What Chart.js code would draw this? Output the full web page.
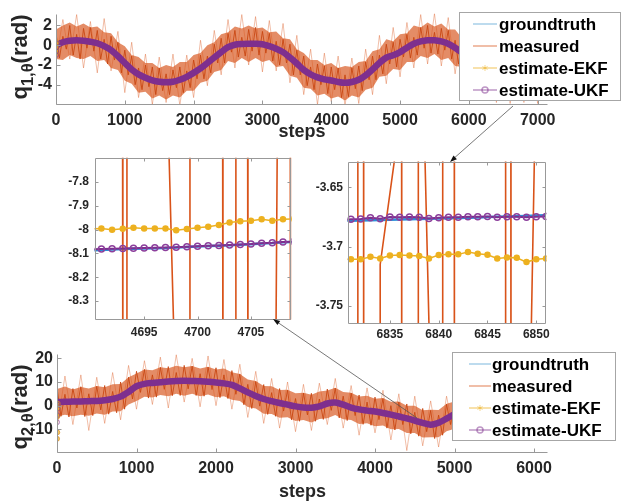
<!DOCTYPE html>
<html>
<head>
<meta charset="utf-8">
<script src="https://cdn.jsdelivr.net/npm/chart.js@4.4.1/dist/chart.umd.min.js"></script>
<style>
  body { margin: 0; background: #fff; width: 621px; height: 502px; position: relative; overflow: hidden;
         font-family: "Liberation Sans", Arial, sans-serif; }
  .pane { position: absolute; }
  .ylab { position: absolute; font-weight: bold; font-size: 22px; color: #262626; white-space: nowrap;
          transform: translate(-50%, -50%) rotate(-90deg); }
  .ylab .sub { font-size: 0.75em; position: relative; top: 0.35em; }
  svg { position: absolute; left: 0; top: 0; pointer-events: none; }
</style>
</head>
<body>
<div class="pane" style="left:0;top:0;width:621px;height:140px"><canvas id="q1Main"></canvas></div>
<div class="pane" style="left:40px;top:145px;width:260px;height:200px"><canvas id="q2Zoom"></canvas></div>
<div class="pane" style="left:295px;top:145px;width:326px;height:200px"><canvas id="q1Zoom"></canvas></div>
<div class="pane" style="left:0;top:340px;width:621px;height:162px"><canvas id="q2Main"></canvas></div>
<div class="ylab" style="left:20px;top:57px">q<span class="sub">1,θ</span>(rad)</div>
<div class="ylab" style="left:20px;top:407px">q<span class="sub">2,θ</span>(rad)</div>
<svg width="621" height="502">
  <line x1="513" y1="106" x2="452" y2="160" stroke="#555" stroke-width="0.8"/>
  <polygon points="450,162 456.9,159.2 453.5,155.5" fill="#111"/>
  <line x1="417" y1="418" x2="275" y2="320.5" stroke="#555" stroke-width="0.8"/>
  <polygon points="273,319 280.2,320.9 277.4,325.1" fill="#111"/>
</svg>
<script>
// ---------- donnees ----------
function range(a, b, step) { const r = []; for (let v = a; v <= b; v += step) r.push(v); return r; }

// q1 : courbe principale (pas de 100)
const q1Steps = range(0, 7100, 100);
const q1Truth = [
  0.0, 0.3, 0.45, 0.5, 0.45, 0.35, 0.2, -0.1, -0.5, -1.1,
  -1.8, -2.45, -2.95, -3.3, -3.55, -3.7, -3.75, -3.7, -3.5, -3.2,
  -2.8, -2.35, -1.8, -1.25, -0.7, -0.2, 0.05, 0.12, 0.15, 0.15,
  0.1, -0.1, -0.35, -0.7, -1.25, -1.85, -2.5, -2.95, -3.25, -3.45,
  -3.57, -3.72, -3.8, -3.72, -3.5, -3.05, -2.45, -1.8, -1.25, -1.02,
  -0.7, -0.25, 0.15, 0.38, 0.5, 0.5, 0.38, 0.15, -0.25, -0.75,
  -1.3, -1.85, -2.35, -2.8, -3.15, -3.4, -3.55, -3.63, -3.67, -3.69,
  -3.7, -3.7
];
// a cette echelle les deux estimations se confondent avec la verite terrain
const q1Ekf = q1Truth;
const q1Ukf = q1Truth;

// q1 mesure : enveloppe de la zone dense (pas de 100)
const q1BandHi = [
  1.6, 2.0, 2.3, 1.9, 2.2, 1.8, 1.9, 1.3, 1.2, 0.3,
  -0.1, -1.0, -1.2, -1.8, -1.8, -2.3, -2.0, -2.2, -1.7, -1.7,
  -1.0, -0.8, 0.0, 0.3, 1.1, 1.3, 1.9, 1.7, 2.0, 1.7,
  1.8, 1.3, 1.4, 0.7, 0.6, -0.4, -0.8, -1.5, -1.5, -2.0,
  -1.8, -2.3, -2.1, -2.2, -1.7, -1.6, -0.6, -0.4, 0.6, 0.4,
  1.1, 1.2, 2.0, 1.8, 2.3, 1.9, 2.2, 1.6, 1.6, 0.7,
  0.5, -0.4, -0.5, -1.4, -1.3, -2.0, -1.7, -2.2, -1.8, -2.3,
  -1.9, -2.2
];
const q1BandLo = [
  -1.4, -1.5, -1.0, -1.3, -1.4, -1.1, -1.6, -1.5, -2.3, -2.5,
  -3.6, -3.9, -4.8, -4.7, -5.4, -5.1, -5.5, -5.1, -5.3, -4.6,
  -4.6, -3.8, -3.6, -2.7, -2.5, -1.6, -1.8, -1.3, -1.7, -1.3,
  -1.7, -1.5, -2.2, -2.1, -3.1, -3.3, -4.3, -4.4, -5.1, -4.9,
  -5.4, -5.2, -5.6, -5.1, -5.3, -4.5, -4.3, -3.2, -3.1, -2.4,
  -2.5, -1.7, -1.7, -1.1, -1.3, -0.9, -1.5, -1.3, -2.1, -2.2,
  -3.1, -3.3, -4.2, -4.2, -5.0, -4.8, -5.4, -5.1, -5.5, -5.1,
  -5.5, -5.1
];
// q1 mesure : traces sombres (pas de 50) et pics clairs (pas de 100)
const q1MeasSteps = range(0, 7100, 50);
const q1Meas = [
  1.2, -1.3, 0.9, -0.4, 2.0, -1.0, 1.1, -1.4, 1.7, -0.3,
  1.8, -0.6, 1.5, -1.4, 0.6, -1.9, 0.9, -1.5, 0.3, -2.8,
  -0.5, -3.0, -1.1, -4.0, -2.3, -4.5, -2.0, -4.2, -2.2, -5.0,
  -2.3, -4.6, -2.9, -5.0, -2.5, -4.3, -2.2, -4.8, -2.6, -4.3,
  -1.5, -3.4, -1.0, -3.4, -1.1, -2.8, 0.1, -1.8, 0.7, -1.8,
  1.2, -0.7, 1.5, -1.2, 0.8, -1.1, 1.6, -0.6, 1.8, -1.0,
  1.4, -0.8, 1.2, -1.6, 0.4, -2.0, 0.6, -1.8, 0.1, -3.0,
  -0.5, -3.0, -1.1, -4.1, -2.2, -4.5, -1.9, -4.0, -2.1, -4.9,
  -2.2, -4.5, -2.3, -5.3, -3.0, -5.2, -2.3, -4.4, -2.1, -4.6,
  -1.7, -3.5, -1.1, -3.5, -1.0, -2.9, 0.1, -1.9, 0.3, -2.2,
  0.6, -1.2, 1.1, -1.3, 0.8, -1.0, 1.8, -0.3, 2.0, -0.8,
  1.3, -0.9, 1.7, -0.5, 1.5, -1.4, 0.5, -1.9, 0.6, -2.4,
  0.0, -2.3, -0.6, -3.4, -1.8, -3.9, -1.5, -3.7, -1.9, -4.6,
  -2.1, -4.3, -2.3, -5.0, -3.0, -5.1, -2.4, -4.5, -2.5, -5.1,
  -2.4, -4.6, -2.5
];
const q1SpikeSteps = range(0, 7100, 100);
const q1Spikes = [
  -1.6, 2.6, -1.4, 3.1, -2.3, 2.4, -2.8, 2.7, -2.6, 1.4,
  -4.8, 0.3, -5.3, -0.9, -6.0, -1.2, -5.8, -0.9, -6.1, -1.0,
  -5.3, 0.5, -4.1, 1.5, -3.0, 2.6, -2.3, 3.1, -2.0, 2.9,
  -2.7, 2.5, -2.6, 2.2, -3.8, 1.0, -5.0, -0.4, -6.0, -0.8,
  -5.7, -1.1, -6.1, -1.3, -5.9, -0.4, -5.0, 1.0, -3.9, 1.8,
  -3.2, 2.3, -2.3, 3.1, -1.9, 3.2, -2.1, 2.8, -2.9, 1.9,
  -3.9, 0.7, -4.9, 0.0, -5.8, -0.8, -5.9, -1.2, -5.8, -1.3,
  -5.9, -1.4
];
const q1InitSteps = [0, 3, 6, 9];
const q1InitEkf = [-0.8, -0.4, 0.0, 0.3];
const q1InitUkf = [-1.0, -0.6, -0.2, 0.2];

// q2 : courbe principale (pas de 100)
const q2Steps = range(0, 6100, 100);
const q2Truth = [
  1.5, 1.6, 1.7, 1.8, 1.9, 2.0, 2.3, 2.8, 3.8, 5.8,
  8.2, 9.2, 9.6, 9.9, 10.2, 10.4, 10.5, 10.4, 10.3, 10.1,
  9.8, 9.4, 8.8, 7.3, 5.6, 4.1, 2.8, 1.9, 1.1, 0.4,
  -0.3, -0.8, -0.9, -0.3, 0.9, 1.3, 0.4, -0.8, -1.6, -2.1,
  -2.5, -3.1, -3.8, -4.6, -5.4, -6.3, -7.3, -8.05, -7.2, -5.5,
  -3.6, -2.0, -0.8, 0.2, 0.8, 1.2, 1.3, 1.2, 1.0, 0.8,
  0.6, 0.5
];
const q2Ekf = q2Truth;
const q2Ukf = q2Truth;

const q2BandHi = [
  7.0, 8.1, 6.8, 7.9, 7.2, 8.3, 7.8, 9.0, 9.2, 12.0,
  13.6, 15.3, 15.0, 16.2, 15.8, 16.9, 16.2, 16.8, 15.7, 16.4,
  15.3, 15.7, 14.1, 13.4, 11.0, 10.4, 8.3, 8.2, 6.6, 6.7,
  5.2, 5.5, 4.6, 6.0, 6.4, 7.6, 5.8, 5.5, 3.9, 4.2,
  2.9, 3.2, 1.6, 1.7, 0.0, 0.0, -1.9, -1.7, -1.8, 0.8,
  1.8, 4.3, 4.6, 6.5, 6.2, 7.5, 6.7, 7.5, 6.4, 7.1,
  6.0, 6.8
];
const q2BandLo = [
  -4.6, -3.9, -4.5, -3.8, -4.3, -3.3, -3.9, -2.5, -2.4, 0.5,
  2.0, 3.8, 3.4, 4.5, 4.0, 5.0, 4.2, 5.0, 4.0, 4.7,
  3.5, 4.0, 2.5, 2.0, -0.6, -1.2, -3.4, -3.5, -5.1, -4.9,
  -6.5, -6.1, -7.1, -5.6, -5.3, -4.0, -5.8, -6.1, -7.8, -7.4,
  -8.7, -8.4, -10.0, -9.9, -11.6, -11.6, -13.5, -13.4, -13.4, -10.8,
  -9.8, -7.3, -7.0, -5.1, -5.4, -4.1, -4.9, -4.1, -5.2, -4.5,
  -5.6, -4.8
];
const q2MeasSteps = range(0, 6150, 50);
const q2Meas = [
  7.5, -4.5, 4.8, -4.8, 7.2, -1.0, 8.0, -4.6, 5.0, -4.2,
  8.2, -1.8, 8.5, -3.6, 6.0, -3.0, 10.0, -1.5, 12.0, 2.8,
  14.5, 5.6, 15.3, 3.2, 13.0, 3.6, 16.2, 6.9, 16.5, 4.2,
  14.0, 4.3, 17.0, 7.1, 16.7, 4.3, 13.5, 4.0, 16.3, 6.8,
  16.0, 3.4, 13.0, 3.0, 14.8, 4.8, 13.4, 0.4, 9.0, -1.2,
  10.2, -0.2, 8.9, -3.7, 5.5, -4.5, 7.2, -2.3, 6.5, -6.0,
  3.0, -6.6, 5.3, -3.9, 5.2, -6.6, 2.8, -5.8, 7.0, -2.0,
  7.4, -5.2, 4.0, -6.3, 5.3, -4.2, 4.5, -7.9, 1.5, -8.3,
  3.6, -5.9, 3.0, -9.5, 0.0, -10.3, 1.5, -8.0, 0.7, -11.9,
  -2.8, -12.9, -1.2, -11.0, -2.0, -13.9, -4.0, -12.5, 0.6, -8.0,
  2.5, -8.9, 1.5, -7.6, 5.3, -3.4, 6.3, -5.5, 3.9, -5.0,
  7.3, -2.0, 7.4, -5.0, 4.3, -5.0, 7.1, -2.2, 6.9, -5.4,
  6.7, -2.5, 6.6, -5.6
];
const q2SpikeSteps = range(0, 6100, 100);
const q2Spikes = [
  -9.5, 12.5, -8.0, 13.0, -10.5, 12.0, -7.5, 14.0, -6.0, 17.0,
  -1.5, 19.0, 0.5, 20.5, -1.0, 21.5, 1.5, 20.0, -0.5, 21.0,
  0.0, 19.5, -1.5, 17.5, -5.0, 14.5, -7.5, 11.5, -9.5, 10.0,
  -11.0, 9.0, -10.5, 9.5, -8.0, 11.5, -9.5, 8.5, -12.5, 7.5,
  -11.5, 6.5, -14.5, 5.0, -19.0, 4.0, -17.0, 2.0, -17.5, 4.0,
  -13.0, 7.0, -11.0, 9.5, -9.0, 11.0, -9.5, 11.5, -10.0, 11.0,
  -10.0, 11.0
];
const q2InitSteps = [0, 3, 6, 9, 12];
const q2InitEkf = [-14.0, -11.3, -4.5, -1.0, 0.8];
const q2InitUkf = [-7.0, -4.0, -1.3, 0.4, 1.2];

// zoom q2 (pas 4690..4709)
const z2Steps = range(4690, 4709, 1);
const z2Truth = [-8.087, -8.085, -8.083, -8.081, -8.080, -8.079, -8.078, -8.077, -8.075, -8.073,
                 -8.071, -8.069, -8.067, -8.065, -8.063, -8.061, -8.058, -8.056, -8.053, -8.051];
const z2Ekf = [-7.997, -7.995, -8.0, -7.996, -7.992, -7.995, -7.995, -7.995, -8.002, -7.997,
               -7.992, -7.988, -7.98, -7.97, -7.965, -7.963, -7.956, -7.963, -7.956, -7.955];
const z2Ukf = [-8.082, -8.081, -8.080, -8.079, -8.078, -8.077, -8.076, -8.075, -8.074, -8.072,
               -8.070, -8.068, -8.066, -8.064, -8.062, -8.060, -8.057, -8.055, -8.052, -8.050];
const z2MeasSteps = [4690, 4692.97, 4693.01, 4693.35, 4693.39, 4696.92, 4698.12, 4699.25, 4699.29,
                     4702.34, 4702.38, 4703.55, 4703.59, 4704.68, 4704.72, 4707.26, 4707.56, 4708.67, 4708.71];
const z2Meas = [-7.0, -7.0, -9.0, -9.0, -7.0, -7.0, -9.0, -9.0, -7.0,
                -7.0, -9.0, -9.0, -7.0, -7.0, -9.0, -9.0, -7.0, -7.0, -9.0];

// zoom q1 (pas 6830..6851)
const z1Steps = range(6830, 6851, 1);
const z1Truth = [-3.6783, -3.6781, -3.6779, -3.6777, -3.6775, -3.6773, -3.6771, -3.6769, -3.6767, -3.6765, -3.6763,
                 -3.6760, -3.6758, -3.6756, -3.6754, -3.6751, -3.6749, -3.6746, -3.6744, -3.6741, -3.6738, -3.6735];
const z1Ekf = [-3.7107, -3.7107, -3.7107, -3.7085, -3.7099, -3.7074, -3.7071, -3.7074, -3.7079, -3.7099, -3.7071,
               -3.7065, -3.7065, -3.7046, -3.7060, -3.7068, -3.7099, -3.7091, -3.7093, -3.7130, -3.7107, -3.7099];
const z1Ukf = [-3.6772, -3.6770, -3.6767, -3.6756, -3.6765, -3.6750, -3.6753, -3.6750, -3.6753, -3.6762, -3.6756,
               -3.6753, -3.6753, -3.6748, -3.6748, -3.6745, -3.6753, -3.6748, -3.6748, -3.6753, -3.6748, -3.6745];
const z1MeasSteps = [6830, 6831.69, 6831.71, 6832.29, 6832.31, 6833.99, 6834.0, 6835.5, 6835.55,
                     6836.19, 6836.21, 6837.89, 6837.91, 6838.37, 6839.25, 6840.39, 6840.41, 6841.59, 6841.61,
                     6846.84, 6846.86, 6847.39, 6847.41, 6848.98, 6850.31, 6852];
const z1Meas = [-4.0, -4.0, -3.4, -3.4, -4.0, -4.0, -3.715, -3.625, -3.4,
                -3.4, -4.0, -4.0, -3.4, -3.55, -3.85, -4.0, -3.4, -3.4, -4.0,
                -4.0, -3.4, -3.4, -4.0, -4.0, -3.4, -3.4];

// graduations
const q1XTicks = [0, 1000, 2000, 3000, 4000, 5000, 6000, 7000];
const q1YTicks = [-4, -2, 0, 2];
const q2XTicks = [0, 1000, 2000, 3000, 4000, 5000, 6000];
const q2YTicks = [-10, 0, 10, 20];
const z2XTicks = [4695, 4700, 4705];
const z2YTicks = [-8.3, -8.2, -8.1, -8, -7.9, -7.8];
const z1XTicks = [6835, 6840, 6845, 6850];
const z1YTicks = [-3.75, -3.7, -3.65];

const legendItems = [
  { label: 'groundtruth', color: 'rgba(0,114,189,0.35)' },
  { label: 'measured', color: 'rgba(217,83,25,0.5)' },
  { label: 'estimate-EKF', color: 'rgba(237,177,32,0.5)', marker: 'star' },
  { label: 'estimate-UKF', color: 'rgba(126,47,142,0.5)', marker: 'circle' }
];

// ---------- dessin ----------
const FONT = '"Liberation Sans", Arial, sans-serif';
Chart.defaults.font.family = FONT;

function xy(xs, ys) { return ys.map((v, i) => ({ x: xs[i], y: v })); }

// axes facon MATLAB : graduations vers l'interieur, legende encadree
const matlabAxes = {
  id: 'matlabAxes',
  afterDatasetsDraw(chart, args, o) {
    const { ctx, chartArea: a } = chart;
    const x = chart.scales.x, y = chart.scales.y;
    const L = Math.round(a.left) + 0.5, B = Math.round(a.bottom) + 0.5;
    const R = Math.round(a.right) - 0.5, T = Math.round(a.top) + 0.5;
    ctx.save();
    ctx.strokeStyle = '#999';
    ctx.lineWidth = 1;
    ctx.beginPath();
    ctx.moveTo(L, T); ctx.lineTo(L, B); ctx.lineTo(R, B);
    if (o.box) { ctx.moveTo(L, T); ctx.lineTo(R, T); ctx.lineTo(R, B); }
    x.ticks.forEach(t => {
      const p = Math.round(x.getPixelForValue(t.value)) + 0.5;
      ctx.moveTo(p, B); ctx.lineTo(p, B - o.tick);
      if (o.box) { ctx.moveTo(p, T); ctx.lineTo(p, T + o.tick); }
    });
    y.ticks.forEach(t => {
      const p = Math.round(y.getPixelForValue(t.value)) + 0.5;
      ctx.moveTo(L, p); ctx.lineTo(L + o.tick, p);
      if (o.box) { ctx.moveTo(R, p); ctx.lineTo(R - o.tick, p); }
    });
    ctx.stroke();
    if (o.title) {
      ctx.font = 'bold 18px ' + FONT;
      ctx.fillStyle = '#262626';
      ctx.textAlign = 'center';
      ctx.textBaseline = 'alphabetic';
      ctx.fillText(o.title, (a.left + a.right) / 2, a.bottom + o.titleOffset);
    }
    ctx.restore();
  },
  afterDraw(chart, args, o) {
    const g = o.legend;
    if (!g) return;
    const ctx = chart.ctx;
    ctx.save();
    ctx.fillStyle = '#fff';
    ctx.fillRect(g.x, g.y, g.w, g.h);
    ctx.strokeStyle = '#a6a6a6';
    ctx.lineWidth = 1;
    ctx.strokeRect(g.x + 0.5, g.y + 0.5, g.w, g.h);
    ctx.font = 'bold 17px ' + FONT;
    ctx.textBaseline = 'middle';
    ctx.textAlign = 'left';
    legendItems.forEach((it, i) => {
      const yy = g.y + g.first + i * g.step;
      const mx = (g.x0 + g.x1) / 2;
      ctx.strokeStyle = it.color;
      ctx.lineWidth = 1.5;
      ctx.beginPath(); ctx.moveTo(g.x0, yy); ctx.lineTo(g.x1, yy); ctx.stroke();
      if (it.marker === 'circle') {
        ctx.beginPath(); ctx.arc(mx, yy, 3, 0, Math.PI * 2); ctx.stroke();
      } else if (it.marker === 'star') {
        ctx.lineWidth = 1;
        ctx.beginPath();
        for (let k = 0; k < 3; k++) {
          const an = k * Math.PI / 3 + Math.PI / 2;
          ctx.moveTo(mx - 3 * Math.cos(an), yy - 3 * Math.sin(an));
          ctx.lineTo(mx + 3 * Math.cos(an), yy + 3 * Math.sin(an));
        }
        ctx.stroke();
      }
      ctx.fillStyle = '#000';
      ctx.fillText(it.label, g.tx, yy + 1);
    });
    ctx.restore();
  }
};

function makeChart(id, o) {
  return new Chart(document.getElementById(id), {
    type: 'line',
    data: { datasets: o.datasets },
    options: {
      responsive: true,
      maintainAspectRatio: false,
      animation: false,
      devicePixelRatio: 1,
      layout: { padding: o.padding },
      elements: { point: { radius: 0 }, line: { fill: false } },
      plugins: { legend: { display: false }, tooltip: { enabled: false }, filler: { drawTime: 'beforeDatasetsDraw' },
                 matlabAxes: o.axes },
      scales: {
        x: {
          type: 'linear', min: o.x[0], max: o.x[1],
          grid: { display: false, drawTicks: false }, border: { display: false },
          ticks: { font: { size: o.font, weight: 'bold' }, color: '#262626', padding: o.xPad,
                   autoSkip: false, maxRotation: 0, callback: v => String(v) },
          afterBuildTicks: s => { s.ticks = o.xTicks.map(v => ({ value: v })); },
          afterFit: s => { s.height = o.xH; }
        },
        y: {
          type: 'linear', min: o.y[0], max: o.y[1],
          grid: { display: false, drawTicks: false }, border: { display: false },
          ticks: { font: { size: o.font, weight: 'bold' }, color: '#262626', padding: o.yPad,
                   autoSkip: false, callback: v => String(v) },
          afterBuildTicks: s => { s.ticks = o.yTicks.map(v => ({ value: v })); },
          afterFit: s => { s.width = o.yW; }
        }
      }
    },
    plugins: [matlabAxes]
  });
}

function mainSets(s) {
  return [
    { data: xy(s.steps, s.truth), borderColor: '#0072BD', borderWidth: 1.5, tension: 0.3, order: 8 },
    { data: xy(s.sSteps, s.spikes), borderColor: 'rgba(217,83,25,0.38)', borderWidth: 1, order: 7 },
    { data: xy(s.steps, s.hi), borderWidth: 0, fill: '+1', backgroundColor: 'rgba(215,85,30,0.68)', order: 6 },
    { data: xy(s.steps, s.lo), borderWidth: 0, order: 5 },
    { data: xy(s.mSteps, s.meas), borderColor: 'rgba(200,68,15,0.85)', borderWidth: 1, order: 4 },
    { data: xy(s.steps, s.ekf), borderColor: '#EDB120', borderWidth: 1.5, tension: 0.3, order: 3 },
    { data: xy(s.steps, s.ukf), borderColor: '#7E2F8E', borderWidth: 6.5, tension: 0.3, order: 2 },
    { data: xy(s.iSteps, s.iEkf), showLine: false, pointRadius: 2.5, pointBackgroundColor: 'rgba(237,177,32,0.7)',
      pointBorderColor: 'rgba(217,140,40,0.7)', pointBorderWidth: 1, order: 1 },
    { data: xy(s.iSteps, s.iUkf), showLine: false, pointRadius: 2.5, pointBackgroundColor: 'rgba(0,0,0,0)',
      pointBorderColor: 'rgba(126,47,142,0.6)', pointBorderWidth: 1, order: 0 }
  ];
}

function zoomSets(steps, truth, ekf, ukf, mSteps, meas) {
  return [
    { data: xy(steps, truth), borderColor: '#2a8fd8', borderWidth: 2.5, clip: 0.5, order: 4 },
    { data: xy(mSteps, meas), borderColor: '#D95319', borderWidth: 1.6, clip: 0.5, order: 3 },
    { data: xy(steps, ekf), borderColor: '#EDB120', borderWidth: 1.5, pointRadius: 2.5,
      pointBackgroundColor: '#EDB120', pointBorderColor: '#EDB120', clip: 0.5, order: 2 },
    { data: xy(steps, ukf), borderColor: '#7E2F8E', borderWidth: 2, pointRadius: 3,
      pointBackgroundColor: 'rgba(0,0,0,0)', pointBorderColor: '#8c3f9c', pointBorderWidth: 1.5, clip: 0.5, order: 1 }
  ];
}

makeChart('q1Main', {
  datasets: mainSets({ steps: q1Steps, truth: q1Truth, ekf: q1Ekf, ukf: q1Ukf, hi: q1BandHi, lo: q1BandLo,
                       mSteps: q1MeasSteps, meas: q1Meas, sSteps: q1SpikeSteps, spikes: q1Spikes,
                       iSteps: q1InitSteps, iEkf: q1InitEkf, iUkf: q1InitUkf }),
  padding: { left: 0, top: 10, right: 73, bottom: 0 },
  x: [0, 7150], y: [-5.95, 3.2], xTicks: q1XTicks, yTicks: q1YTicks,
  xH: 36, yW: 56, xPad: 7, yPad: 4, font: 16,
  axes: { box: false, tick: 4, title: 'steps', titleOffset: 33,
          legend: { x: 459, y: 12, w: 161, h: 88, first: 12, step: 22, x0: 473, x1: 497, tx: 499 } }
});

makeChart('q2Main', {
  datasets: mainSets({ steps: q2Steps, truth: q2Truth, ekf: q2Ekf, ukf: q2Ukf, hi: q2BandHi, lo: q2BandLo,
                       mSteps: q2MeasSteps, meas: q2Meas, sSteps: q2SpikeSteps, spikes: q2Spikes,
                       iSteps: q2InitSteps, iEkf: q2InitEkf, iUkf: q2InitUkf }),
  padding: { left: 0, top: 10, right: 73, bottom: 0 },
  x: [0, 6176], y: [-19.6, 22], xTicks: q2XTicks, yTicks: q2YTicks,
  xH: 50, yW: 57, xPad: 7, yPad: 4, font: 16,
  axes: { box: false, tick: 4, title: 'steps', titleOffset: 45,
          legend: { x: 452, y: 12, w: 163, h: 88, first: 12, step: 22, x0: 469, x1: 491, tx: 492 } }
});

makeChart('q2Zoom', {
  datasets: zoomSets(z2Steps, z2Truth, z2Ekf, z2Ukf, z2MeasSteps, z2Meas),
  padding: { left: 0, top: 12, right: 9, bottom: 0 },
  x: [4690.4, 4708.75], y: [-8.375, -7.7], xTicks: z2XTicks, yTicks: z2YTicks,
  xH: 26, yW: 55, xPad: 6, yPad: 6, font: 12,
  axes: { box: true, tick: 3 }
});

makeChart('q1Zoom', {
  datasets: zoomSets(z1Steps, z1Truth, z1Ekf, z1Ukf, z1MeasSteps, z1Meas),
  padding: { left: 0, top: 17, right: 75, bottom: 0 },
  x: [6830.7, 6851], y: [-3.7643, -3.6287], xTicks: z1XTicks, yTicks: z1YTicks,
  xH: 22, yW: 53, xPad: 4, yPad: 5, font: 12,
  axes: { box: true, tick: 3 }
});
</script>
</body>
</html>
